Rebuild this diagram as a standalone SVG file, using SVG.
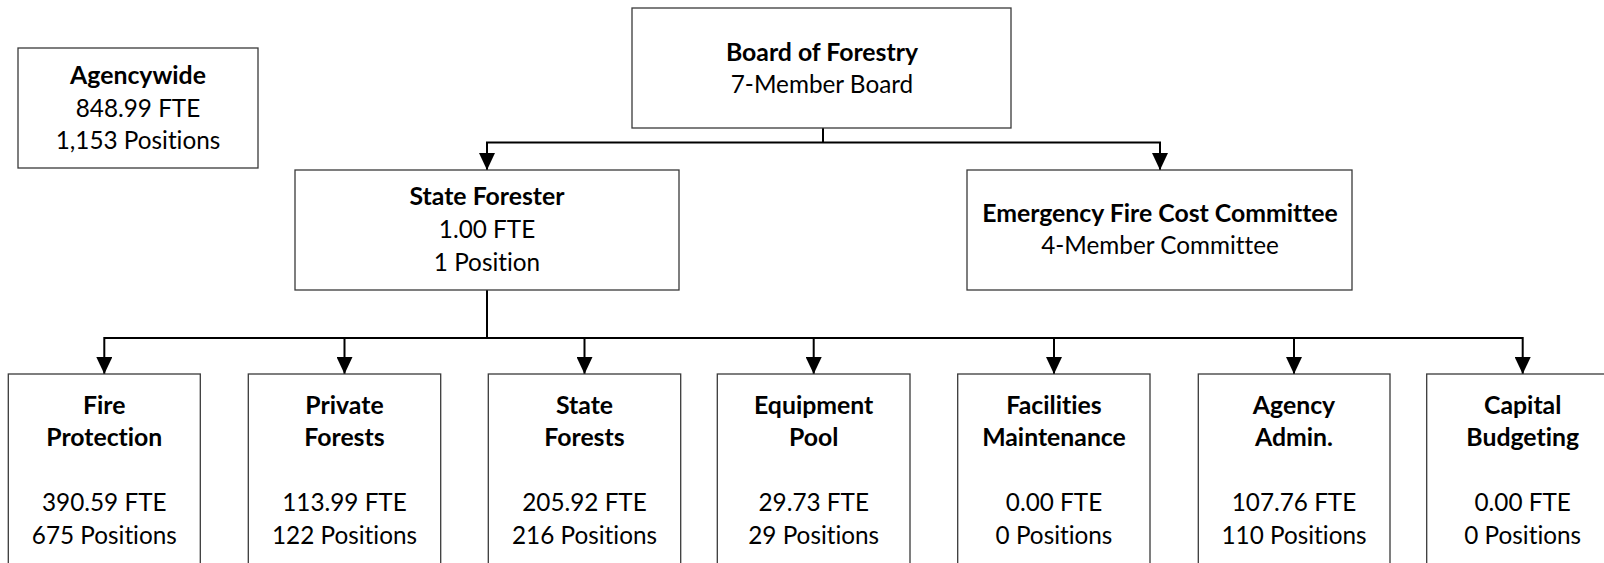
<svg xmlns="http://www.w3.org/2000/svg" width="1604" height="563" viewBox="0 0 1604 563">
<style>
.box{fill:#fff;stroke:#3a3a3a;stroke-width:1.3}
text{font-family:Lato,"Liberation Sans",sans-serif;font-size:24.3px;fill:#000;text-anchor:middle;font-variant-ligatures:none}
.b{font-weight:bold;font-size:24.8px}
.conn{fill:none;stroke:#000;stroke-width:2}
</style>
<defs>
<marker id="arr" markerUnits="userSpaceOnUse" markerWidth="18" markerHeight="16" refX="17" refY="8" orient="auto">
<path d="M0,0 L17,8 L0,16 Z" fill="#000"/>
</marker>
</defs>
<rect width="1604" height="563" fill="#fff"/>
<g id="connectors">
<path class="conn" d="M823,128 V142.5"/>
<path class="conn" d="M823,142.5 H487 V170" marker-end="url(#arr)"/>
<path class="conn" d="M823,142.5 H1160 V170" marker-end="url(#arr)"/>
<path class="conn" d="M487,290 V338"/>
<path class="conn" d="M487,338 H104.3 V374" marker-end="url(#arr)"/>
<path class="conn" d="M487,338 H344.5 V374" marker-end="url(#arr)"/>
<path class="conn" d="M487,338 H584.5 V374" marker-end="url(#arr)"/>
<path class="conn" d="M487,338 H813.7 V374" marker-end="url(#arr)"/>
<path class="conn" d="M487,338 H1054 V374" marker-end="url(#arr)"/>
<path class="conn" d="M487,338 H1294 V374" marker-end="url(#arr)"/>
<path class="conn" d="M487,338 H1522.7 V374" marker-end="url(#arr)"/>
</g>
<g id="agencywide">
<rect class="box" x="18" y="48" width="240" height="120"/>
<text class="b" x="138" y="84">Agencywide</text>
<text x="138" y="116.5">848.99 FTE</text>
<text x="138" y="149">1,153 Positions</text>
</g>
<g id="board">
<rect class="box" x="632" y="8" width="379" height="120"/>
<text class="b" x="822" y="61">Board of Forestry</text>
<text x="822" y="93">7-Member Board</text>
</g>
<g id="state-forester">
<rect class="box" x="295" y="170" width="384" height="120"/>
<text class="b" x="487" y="205">State Forester</text>
<text x="487" y="238">1.00 FTE</text>
<text x="487" y="270.5">1 Position</text>
</g>
<g id="efcc">
<rect class="box" x="967" y="170" width="385" height="120"/>
<text class="b" x="1160" y="222">Emergency Fire Cost Committee</text>
<text x="1160" y="254">4-Member Committee</text>
</g>
<g id="fire-protection">
<rect class="box" x="8.3" y="374" width="192" height="200"/>
<text class="b" x="104.3" y="413.5">Fire</text>
<text class="b" x="104.3" y="446">Protection</text>
<text x="104.3" y="511">390.59 FTE</text>
<text x="104.3" y="543.5">675 Positions</text>
</g>
<g id="private-forests">
<rect class="box" x="248.3" y="374" width="192.4" height="200"/>
<text class="b" x="344.5" y="413.5">Private</text>
<text class="b" x="344.5" y="446">Forests</text>
<text x="344.5" y="511">113.99 FTE</text>
<text x="344.5" y="543.5">122 Positions</text>
</g>
<g id="state-forests">
<rect class="box" x="488.3" y="374" width="192.4" height="200"/>
<text class="b" x="584.5" y="413.5">State</text>
<text class="b" x="584.5" y="446">Forests</text>
<text x="584.5" y="511">205.92 FTE</text>
<text x="584.5" y="543.5">216 Positions</text>
</g>
<g id="equipment-pool">
<rect class="box" x="717.3" y="374" width="192.7" height="200"/>
<text class="b" x="813.7" y="413.5">Equipment</text>
<text class="b" x="813.7" y="446">Pool</text>
<text x="813.7" y="511">29.73 FTE</text>
<text x="813.7" y="543.5">29 Positions</text>
</g>
<g id="facilities-maintenance">
<rect class="box" x="957.7" y="374" width="192.3" height="200"/>
<text class="b" x="1054" y="413.5">Facilities</text>
<text class="b" x="1054" y="446">Maintenance</text>
<text x="1054" y="511">0.00 FTE</text>
<text x="1054" y="543.5">0 Positions</text>
</g>
<g id="agency-admin">
<rect class="box" x="1198.3" y="374" width="191.7" height="200"/>
<text class="b" x="1294" y="413.5">Agency</text>
<text class="b" x="1294" y="446">Admin.</text>
<text x="1294" y="511">107.76 FTE</text>
<text x="1294" y="543.5">110 Positions</text>
</g>
<g id="capital-budgeting">
<rect class="box" x="1426.7" y="374" width="192" height="200"/>
<text class="b" x="1522.7" y="413.5">Capital</text>
<text class="b" x="1522.7" y="446">Budgeting</text>
<text x="1522.7" y="511">0.00 FTE</text>
<text x="1522.7" y="543.5">0 Positions</text>
</g>
</svg>
